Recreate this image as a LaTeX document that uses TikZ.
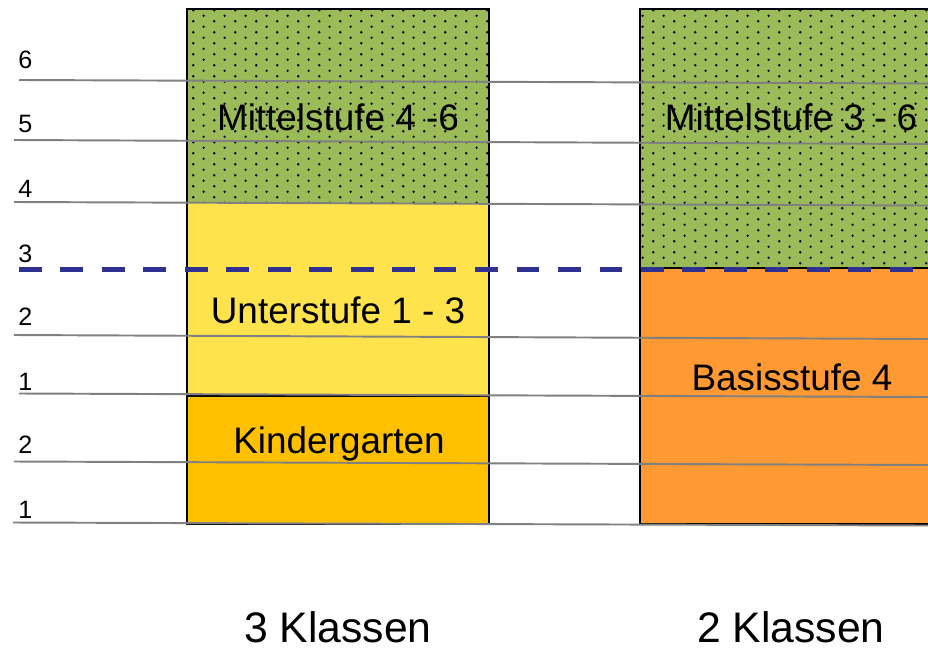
\documentclass[tikz,border=0pt]{standalone}
\usepackage{fontspec}
\setmainfont{Liberation Sans}
\usetikzlibrary{patterns}

\definecolor{stufegreen}{RGB}{155,187,89}
\definecolor{unteryellow}{RGB}{255,227,77}
\definecolor{kgorange}{RGB}{255,192,0}
\definecolor{basisorange}{RGB}{255,153,51}
\definecolor{cutblue}{RGB}{46,49,146}

% staggered dots on the Mittelstufe blocks
\pgfdeclarepatternformonly{stufedots}{\pgfqpoint{0pt}{0pt}}{\pgfqpoint{11.9pt}{6.24pt}}{\pgfqpoint{11.9pt}{6.24pt}}{
  \pgfpathcircle{\pgfqpoint{2.97pt}{1.56pt}}{0.75pt}
  \pgfpathcircle{\pgfqpoint{8.92pt}{4.68pt}}{0.75pt}
  \pgfusepath{fill}
}

\begin{document}
\begin{tikzpicture}[x=0.02cm, y=-0.02cm,
  every node/.style={inner sep=0pt, font=\fontsize{21}{24}\selectfont},
  grade/.style={anchor=base west, font=\fontsize{14.3}{16}\selectfont},
  stufe/.style={anchor=base},
  classes/.style={anchor=base, font=\fontsize{24.3}{27}\selectfont},
  gradeline/.style={draw=gray, line width=1.1pt},
  border/.style={draw=black, line width=1.5pt},
  cutline/.style={draw=cutblue, line width=3.2pt, dash pattern=on 13pt off 10.6pt},
  dotted green/.style={fill=stufegreen, postaction={pattern=stufedots}}]
  \useasboundingbox (0,0) rectangle (928,649);

  % 3 Klassen
  \fill[dotted green] (187,9) rectangle (489,203);
  \fill[unteryellow] (187,203) rectangle (489,396);
  \fill[kgorange] (187,396) rectangle (489,524);
  % 2 Klassen
  \fill[dotted green] (640,9) rectangle (940,268);
  \fill[basisorange] (640,268) rectangle (940,524);

  \draw[border] (187,9) rectangle (489,524);
  \draw[border] (187,396) -- (489,396);
  \draw[border] (940,9) -- (640,9) -- (640,524) -- (940,524);
  \draw[border] (640,268) -- (940,268);

  % grade lines
  \foreach \xa/\ya/\yb in {19/80/83.5, 14/140/144, 14/202/205.5, 14/335/339,
                           19/393.5/397, 14/461.5/465, 13/522.5/525.5}
    \draw[gradeline] (\xa,\ya) -- (928,\yb);

  \foreach \n/\y [count=\i] in {6/68, 5/132, 4/197, 3/262, 2/325, 1/390, 2/453, 1/518}
    \node[grade] (grade\i) at (18,\y) {\n};

  \node[stufe] (mittel left) at (338,130) {Mittelstufe 4 -6};
  \node[stufe] (unter) at (338,323) {Unterstufe 1 - 3};
  \node[stufe] (kg) at (339,453) {Kindergarten};
  \node[stufe] (mittel right) at (791,130) {Mittelstufe 3 - 6};
  \node[stufe] (basis) at (792,390) {Basisstufe 4};

  \node[classes] (classes left) at (338,642) {3 Klassen};
  \node[classes] (classes right) at (791,642) {2 Klassen};

  \coordinate (cut start) at (19,269.5);
  \coordinate (cut end) at (928,269.5);
  \draw[cutline] (cut start) -- (cut end);
\end{tikzpicture}
\end{document}
